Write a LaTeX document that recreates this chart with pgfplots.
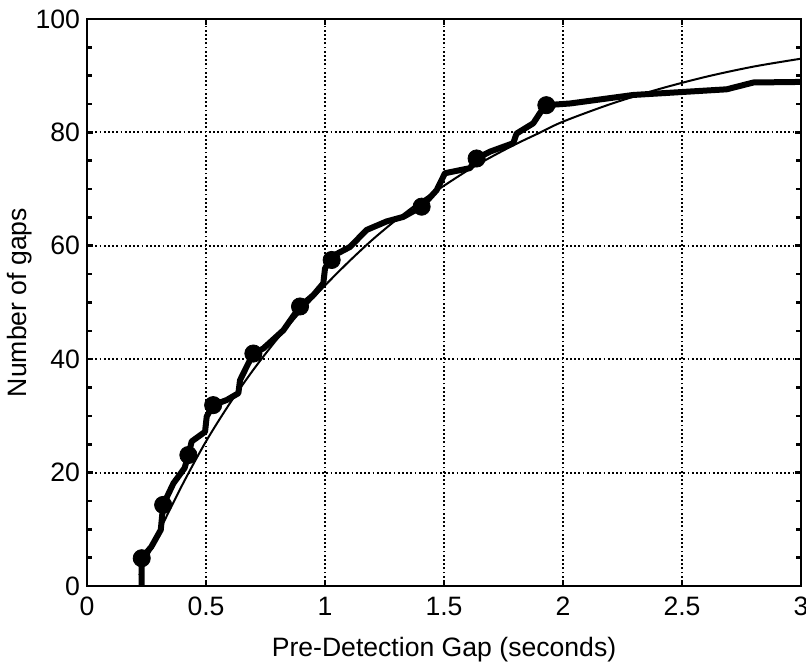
\documentclass[border=0pt]{standalone}
\usepackage{pgfplots}
\pgfplotsset{compat=1.18}
\usepackage{fontspec}
\setmainfont{Liberation Sans}
\begin{document}
\begin{tikzpicture}
\begin{axis}[
  scale only axis,
  width=357pt, height=283.5pt,
  xmin=0, xmax=3, ymin=0, ymax=100,
  xtick={0,0.5,1,1.5,2,2.5,3},
  xticklabels={0,0.5,1,1.5,2,2.5,3},
  ytick={0,20,40,60,80,100},
  minor y tick num=3,
  grid=major,
  major grid style={black, line width=0.9pt, dash pattern=on 0.9pt off 1.2pt},
  axis line style={black, line width=1.1pt},
  tick style={black, line width=1.3pt},
  major tick length=3pt, minor tick length=2.5pt,
  tick align=inside,
  /pgf/number format/assume math mode=true,
  tick label style={font=\fontsize{13.3}{15}\selectfont},
  xticklabel style={yshift=-2pt},
  xlabel={Pre-Detection Gap (seconds)},
  ylabel={Number of gaps},
  label style={font=\fontsize{13.3}{15}\selectfont},
  xlabel style={yshift=-4pt},
  ylabel style={yshift=-5pt},
  clip=false,
]
\coordinate (ll) at (rel axis cs:0,0);
\coordinate (ur) at (rel axis cs:1,1);
% fitted curve
\addplot[black, line width=1pt, smooth] coordinates {
(0.22,1.9) (0.3,9.3) (0.4,17.8) (0.5,25.5) (0.6,32.2) (0.7,38.2) (0.8,43.6)
(0.9,48.5) (1.0,53.0) (1.1,57.2) (1.2,61.1) (1.3,64.6) (1.4,67.8) (1.5,70.6)
(1.6,73.3) (1.7,75.7) (1.8,77.9) (1.9,79.9) (2.0,81.9) (2.2,85.0) (2.4,87.6)
(2.6,89.8) (2.8,91.6) (3.0,93.0)
};
% empirical cumulative count
\addplot[black, line width=3pt, line join=round] coordinates {
(0.23,0) (0.23,4.9) (0.27,6.9) (0.31,9.9) (0.32,14.3) (0.363,18.1) (0.41,20.8)
(0.426,23.1) (0.44,25.5) (0.496,27.2) (0.503,29.9) (0.53,31.9) (0.587,32.8)
(0.636,34) (0.643,36.3) (0.671,38.7) (0.699,41) (0.741,41.9) (0.825,45.1)
(0.895,49.3) (0.951,51.3) (0.993,53.4) (1.0,56) (1.028,58.1) (1.105,59.8)
(1.175,62.8) (1.259,64.3) (1.329,65.1) (1.406,66.9) (1.469,69.8) (1.504,72.8)
(1.609,73.7) (1.637,75.4) (1.693,76.6) (1.791,78.1) (1.805,79.8) (1.875,81.6)
(1.903,83.4) (1.93,84.8) (2.03,85.1) (2.295,86.6) (2.688,87.6) (2.80,88.8) (3.0,88.9)
};
\addplot[only marks, mark=*, mark size=4.3pt, black] coordinates {
(0.23,4.9) (0.32,14.3) (0.426,23.1) (0.53,31.9) (0.699,41) (0.895,49.3)
(1.028,57.5) (1.406,66.9) (1.637,75.4) (1.93,84.8)
};
\end{axis}
\pgfresetboundingbox
\path[use as bounding box] ([shift={(-43.5pt,-38.5pt)}]ll) rectangle ([shift={(2.5pt,9.5pt)}]ur);
\end{tikzpicture}
\end{document}
